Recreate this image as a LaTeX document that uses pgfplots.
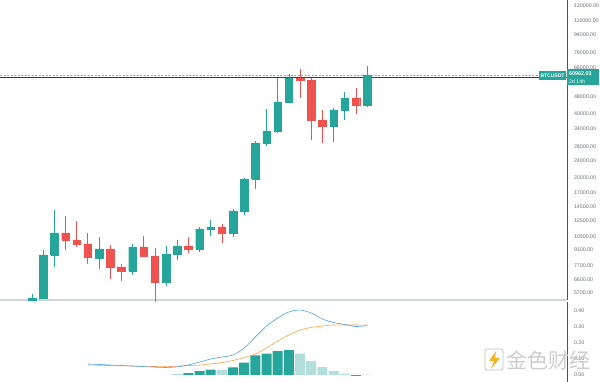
\documentclass[border=0pt]{standalone}
\usepackage{pgfplots}
\pgfplotsset{compat=1.18}
\usepackage{pgfplotstable}
\usepackage{fontspec}
\setmainfont{Liberation Sans}
\newfontfamily\cjk{Noto Sans CJK SC}

\definecolor{upc}{HTML}{26A69A}
\definecolor{downc}{HTML}{EF5350}
\definecolor{lightup}{HTML}{B2DFDB}
\definecolor{macdblue}{HTML}{4AA3E8}
\definecolor{sigorange}{HTML}{FFA24A}
\definecolor{labgray}{HTML}{6A6D78}
\definecolor{sepgray}{HTML}{D1D4DC}
\definecolor{axgray}{HTML}{50535E}
\definecolor{hline}{HTML}{363A45}
\definecolor{gold}{HTML}{F0B429}

% monthly candles: index, open, high, low, close, up(1)/down(0)
\pgfplotstableread{
k open high low close up
0 5282 5638 5225 5398 1
1 5398 9096 5350 8615 1
2 8615 14050 7562 10943 1
3 10943 13163 9096 10141 0
4 10141 12466 9398 9709 0
5 9709 10943 7813 8430 0
6 8339 10477 7399 9196 1
7 9196 9605 6637 7562 0
8 7562 7813 6494 7240 0
9 7240 9709 6932 9398 1
10 9398 10591 8430 8522 0
11 8522 9296 5169 6424 0
12 6424 9500 6151 8710 1
13 8710 10141 8159 9500 1
14 9500 10477 8805 9196 0
15 9196 11679 8901 11429 1
16 11429 12603 10591 11679 1
17 11679 12067 9815 10943 0
18 10943 14203 10477 13898 1
19 13898 19950 13307 19700 1
20 19700 29745 17653 29107 1
21 29107 42118 28169 33164 1
22 33164 58995 32453 45450 1
23 45450 61617 45000 58995 1
24 58995 65061 47471 57728 0
25 57728 58995 30069 37369 0
26 37369 41662 29107 35011 0
27 35011 42581 29423 41662 1
28 41662 50668 37369 47471 1
29 47471 52918 39892 43994 0
30 43994 67214 43000 60962.03 1
}\candles

\pgfplotstableread{
k v
14 0.012
15 0.024
16 0.034
18 0.047
19 0.078
20 0.122
21 0.134
22 0.149
23 0.155
}\histup
\pgfplotstableread{
k v
13 0.006
17 0.031
24 0.134
25 0.086
26 0.049
27 0.024
28 0.009
30 0.003
}\histdown
\pgfplotstableread{
k v
29 -0.006
}\histneg

\pgfplotstableread{
k v
5 0.069
7 0.0625
9 0.056
11 0.049
12 0.047
13 0.051
14 0.0625
15 0.081
16 0.100
17 0.1125
18 0.125
19 0.169
20 0.2375
21 0.306
22 0.356
23 0.394
24 0.406
25 0.3875
26 0.350
27 0.328
28 0.316
29 0.303
30 0.309
}\macdline
\pgfplotstableread{
k v
5 0.0625
7 0.059
9 0.056
11 0.053
12 0.052
13 0.055
14 0.059
15 0.0625
16 0.069
17 0.078
18 0.091
19 0.109
20 0.131
21 0.169
22 0.2125
23 0.250
24 0.281
25 0.297
26 0.306
27 0.3125
28 0.3125
29 0.3125
30 0.311
}\signalline

\begin{document}
\begin{tikzpicture}
\path[use as bounding box] (0pt,0pt) rectangle (600pt,382pt);

% ---------------- main price panel ----------------
\begin{axis}[
  at={(0pt,82pt)}, anchor=south west,
  width=567pt, height=300pt, scale only axis,
  xmin=-2.865, xmax=47.9,
  ymode=log, ymin=5282, ymax=137700,
  axis x line*=bottom, axis y line*=right,
  x axis line style={draw=sepgray, line width=1.5pt, -},
  y axis line style={draw=axgray, line width=0.6pt, -},
  xtick=\empty,
  ytick={130000,110000,94000,78000,66000,48000,40000,34000,28000,24000,20000,17000,14500,12500,10500,9100,7700,6600,5700},
  yticklabels={130000.00,110000.00,94000.00,78000.00,66000.00,48000.00,40000.00,34000.00,28000.00,24000.00,20000.00,17000.00,14500.00,12500.00,10500.00,9100.00,7700.00,6600.00,5700.00},
  major tick length=0pt,
  yticklabel style={font=\fontsize{5.3}{6}\selectfont, text=labgray, anchor=west, xshift=3.5pt},
  clip=false,
]
% price lines
\addplot[draw=upc!70, dashed, dash pattern=on 2pt off 1.5pt, line width=0.5pt, forget plot]
  coordinates {(-2.865,60962.03) (45.5,60962.03)};
\addplot[draw=hline, line width=0.7pt, forget plot]
  coordinates {(-2.865,59200) (47.9,59200)};

\pgfplotsinvokeforeach{0,...,30}{
  \pgfplotstablegetelem{#1}{open}\of\candles \edef\cO{\pgfplotsretval}
  \pgfplotstablegetelem{#1}{high}\of\candles \edef\cH{\pgfplotsretval}
  \pgfplotstablegetelem{#1}{low}\of\candles \edef\cL{\pgfplotsretval}
  \pgfplotstablegetelem{#1}{close}\of\candles \edef\cC{\pgfplotsretval}
  \pgfplotstablegetelem{#1}{up}\of\candles
  \ifnum\pgfplotsretval=1 \def\cCol{upc}\else\def\cCol{downc}\fi
  \pgfmathsetmacro\xa{#1-0.34}
  \pgfmathsetmacro\xb{#1+0.34}
  \edef\doplot{%
    \noexpand\addplot[draw=\cCol, line width=0.7pt, forget plot] coordinates {(#1,\cL) (#1,\cH)};
    \noexpand\addplot[draw=\cCol, fill=\cCol, line width=0.4pt, forget plot] coordinates {(\xa,\cO) (\xb,\cO) (\xb,\cC) (\xa,\cC) (\xa,\cO)};
  }\doplot
}
\end{axis}

% ---------------- indicator panel ----------------
\begin{axis}[
  at={(0pt,0pt)}, anchor=south west,
  width=567pt, height=80pt, scale only axis,
  xmin=-2.865, xmax=47.9,
  ymin=-0.04375, ymax=0.45625,
  axis x line=none, axis y line*=right,
  y axis line style={draw=axgray, line width=0.6pt, -},
  xtick=\empty,
  ytick={0,0.1,0.2,0.3,0.4},
  yticklabels={0.00,0.10,0.20,0.30,0.40},
  major tick length=0pt,
  yticklabel style={font=\fontsize{5.3}{6}\selectfont, text=labgray, anchor=west, xshift=3.5pt},
  clip=false,
]
\addplot[ybar, bar width=10pt, bar shift=0pt, fill=upc, draw=none] table[x=k,y=v] {\histup};
\addplot[ybar, bar width=10pt, bar shift=0pt, fill=lightup, draw=none] table[x=k,y=v] {\histdown};
\addplot[ybar, bar width=10pt, bar shift=0pt, fill=downc, draw=none] table[x=k,y=v] {\histneg};
\addplot[smooth, draw=sigorange, line width=0.6pt, no marks] table[x=k,y=v] {\signalline};
\addplot[smooth, draw=macdblue, line width=0.6pt, no marks] table[x=k,y=v] {\macdline};
\end{axis}

% ---------------- price tags ----------------
\fill[upc] (539pt,301.5pt) rectangle (566pt,311pt);
\node[text=white, font=\fontsize{5}{5}\selectfont\bfseries, inner sep=0pt] at (552.5pt,306.3pt) {BTCUSDT};
\fill[upc] (567pt,297pt) rectangle (599pt,312.5pt);
\node[text=white, font=\fontsize{5.4}{5}\selectfont\bfseries, inner sep=0pt, anchor=west] at (569pt,308.3pt) {60962.03};
\node[text=white, font=\fontsize{5.2}{5}\selectfont, inner sep=0pt, anchor=west] at (569pt,300.8pt) {2d 14h};

% ---------------- watermark ----------------
\draw[black!25, line width=0.8pt, rounded corners=2pt] (485pt,12pt) rectangle (503pt,33pt);
\fill[gold] (496pt,31pt) -- (489pt,21pt) -- (494pt,21pt) -- (491pt,13pt) -- (500pt,24pt) -- (495pt,24pt) -- cycle;
\node[text=black!20, font=\cjk\fontsize{21}{22}\selectfont, inner sep=0pt] at (548pt,22pt) {金色财经};
\end{tikzpicture}
\end{document}
